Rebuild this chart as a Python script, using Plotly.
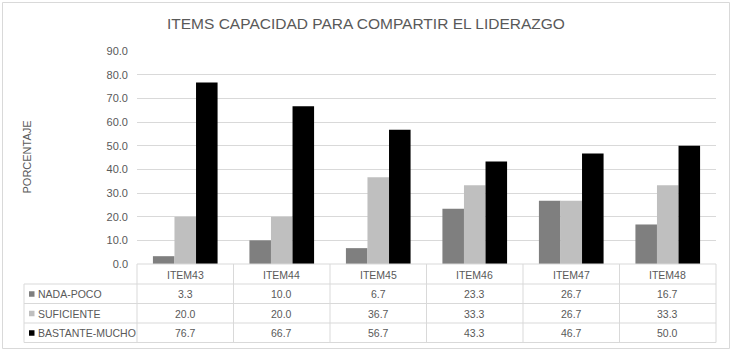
import plotly.graph_objects as go

categories = ["ITEM43", "ITEM44", "ITEM45", "ITEM46", "ITEM47", "ITEM48"]
series_names = ["NADA-POCO", "SUFICIENTE", "BASTANTE-MUCHO"]
nada_poco = [3.3, 10.0, 6.7, 23.3, 26.7, 16.7]
suficiente = [20.0, 20.0, 36.7, 33.3, 26.7, 33.3]
bastante_mucho = [76.7, 66.7, 56.7, 43.3, 46.7, 50.0]
series_values = [nada_poco, suficiente, bastante_mucho]
colors = ["#7f7f7f", "#bfbfbf", "#000000"]

title_text = "ITEMS CAPACIDAD PARA COMPARTIR EL LIDERAZGO"
y_title = "PORCENTAJE"

# page geometry (body margin removed via post_script)
W, H = 732, 351
PLOT_L, PLOT_R, PLOT_T, PLOT_B = 137, 716, 51, 264  # page pixels
L = PLOT_L
R = W - PLOT_R
T = PLOT_T
B = H - PLOT_B
PW = PLOT_R - PLOT_L
PH = PLOT_B - PLOT_T
TEXT = "#595959"
GRID = "#d9d9d9"
FONT = "Liberation Sans, Arial, sans-serif"


def px(x):
    return (x - PLOT_L) / PW


def py(y):
    return (PLOT_B - y) / PH


fig = go.Figure()
for name, vals, col in zip(series_names, series_values, colors):
    fig.add_trace(go.Bar(x=categories, y=vals, name=name, marker_color=col,
                         marker_line_width=0, showlegend=False, hoverinfo="skip"))

shapes = []
annotations = []

# chart border
shapes.append(dict(type="rect", xref="paper", yref="paper", x0=px(2.5), x1=px(729.5),
                   y0=py(348.5), y1=py(2.5), line=dict(color=GRID, width=1)))

# table geometry (page pixel rows)
row_lines = [284, 303.5, 323, 342.5]
row_centers = [275, 294, 313.5, 333]
n = len(categories)

# horizontal lines
shapes.append(dict(type="line", xref="paper", yref="paper", x0=0, x1=1, y0=0, y1=0,
                   line=dict(color=GRID, width=1)))
for yl in row_lines:
    shapes.append(dict(type="line", xref="paper", yref="paper", x0=px(24), x1=1,
                       y0=py(yl), y1=py(yl), line=dict(color=GRID, width=1)))
# vertical lines
for k in range(n + 1):
    shapes.append(dict(type="line", xref="paper", yref="paper", x0=k / n, x1=k / n,
                       y0=0, y1=py(row_lines[-1]), line=dict(color=GRID, width=1)))
shapes.append(dict(type="line", xref="paper", yref="paper", x0=px(24), x1=px(24),
                   y0=py(row_lines[0]), y1=py(row_lines[-1]), line=dict(color=GRID, width=1)))

cell_font = dict(size=10.5, color=TEXT, family=FONT)

# header labels
for c in categories:
    annotations.append(dict(x=c, y=py(row_centers[0]), xref="x", yref="paper", text=c,
                            xanchor="center", yanchor="middle", showarrow=False,
                            font=cell_font))
# values and legend keys
for r, (name, vals, col) in enumerate(zip(series_names, series_values, colors)):
    yc = row_centers[r + 1]
    shapes.append(dict(type="rect", xref="paper", yref="paper", x0=px(29), x1=px(34.5),
                       y0=py(yc + 2.75), y1=py(yc - 2.75), fillcolor=col, line=dict(width=0)))
    annotations.append(dict(x=px(36), y=py(yc), xref="paper", yref="paper", text=name,
                            xanchor="left", yanchor="middle", showarrow=False,
                            font=cell_font))
    for c, v in zip(categories, vals):
        annotations.append(dict(x=c, y=py(yc), xref="x", yref="paper", text=f"{v:.1f}",
                                xanchor="center", yanchor="middle", showarrow=False,
                                font=cell_font))

# y axis title
annotations.append(dict(x=px(26), y=py((PLOT_T + PLOT_B) / 2), xref="paper", yref="paper",
                        text=y_title, textangle=-90, xanchor="center", yanchor="middle",
                        showarrow=False, font=dict(size=11, color=TEXT, family=FONT)))
# chart title
annotations.append(dict(x=px(366), y=py(24), xref="paper", yref="paper", text=title_text,
                        xanchor="center", yanchor="middle", showarrow=False,
                        font=dict(size=15.5, color=TEXT, family=FONT)))

fig.update_layout(
    width=W, height=H,
    margin=dict(l=L, r=R, t=T, b=B, pad=0),
    paper_bgcolor="white", plot_bgcolor="white",
    barmode="group", bargap=0.33, bargroupgap=0,
    font=dict(family=FONT, color=TEXT),
    hovermode=False,
    shapes=shapes, annotations=annotations,
    xaxis=dict(showticklabels=False, showgrid=False, showline=False, zeroline=False,
               ticks="", range=[-0.5, n - 0.5], fixedrange=True),
    yaxis=dict(range=[0, 90], dtick=10, tick0=0, tickformat=".1f", showgrid=True,
               gridcolor=GRID, gridwidth=1, zeroline=False, showline=False, ticks="",
               ticklabelstandoff=8, tickfont=dict(size=11, color=TEXT, family=FONT),
               fixedrange=True),
)

fig.write_html("out.html", config={"displayModeBar": False},
               post_script="document.body.style.margin='0';document.body.style.overflow='hidden';")
